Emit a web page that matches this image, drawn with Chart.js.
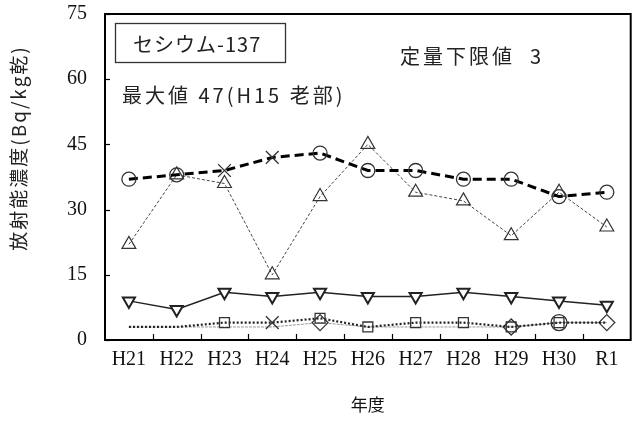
<!DOCTYPE html>
<html>
<head>
<meta charset="utf-8">
<script src="https://cdn.jsdelivr.net/npm/chart.js@4/dist/chart.umd.min.js"></script>
<style>
    html, body { margin: 0; padding: 0; background: #fff; overflow: hidden; }
    #wrap { width: 640px; height: 423px; }
</style>
</head>
<body>
<div id="wrap"><canvas id="chart" width="640" height="423"></canvas></div>
<script>
const years = ["H21", "H22", "H23", "H24", "H25", "H26", "H27", "H28", "H29", "H30", "R1"];
const yTicks = [0, 15, 30, 45, 60, 75];
const circleSeries = [37, 38, 39, 42, 43, 39, 39, 37, 37, 33, 34];
const circleMarks = ["circle", "circle", "crossRot", "crossRot", "circle", "circle", "circle", "circle", "circle", "circle", "circle"];
const triangleSeries = [22, 38, 36, 15, 33, 45, 34, 32, 24, 34, 26];
const downSeries = [9, 7, 11, 10, 11, 10, 10, 11, 10, 9, 8];
const squareSeries = [3, 3, 4, 4, 5, 3, 4, 4, 3, 4, 4];
const squareMarks = [null, null, "rect", "crossRot", "rect", "rect", "rect", "rect", "rect", "rect", null];
const diamondSeries = [3, 3, 3, 3, 4, 3, 3, 3, 3, 4, 4];
const diamondMarks = [null, null, null, null, "rectRot", null, null, null, "rectRot", "circle", "rectRot"];

const serif = "'Liberation Serif', 'Noto Sans CJK JP', serif";
const jp = "'Noto Sans CJK JP', 'Liberation Serif', serif";
const clear = "rgba(255,255,255,0)";

// frame, inward ticks and the text labels inside the plot
const decor = {
    id: "decor",
    afterDraw(chart) {
        const { ctx, chartArea: a, scales } = chart;
        ctx.save();
        ctx.strokeStyle = "#000";
        ctx.lineWidth = 2;
        ctx.strokeRect(a.left, a.top, a.right - a.left, a.bottom - a.top);
        ctx.lineWidth = 1.2;
        yTicks.forEach(v => {
            const y = Math.round(scales.y.getPixelForValue(v)) + 0.5;
            ctx.beginPath();
            ctx.moveTo(a.left, y);
            ctx.lineTo(a.left + 5, y);
            ctx.stroke();
        });
        for (let i = 0; i < years.length - 1; i++) {
            const x = Math.round((scales.x.getPixelForValue(i) + scales.x.getPixelForValue(i + 1)) / 2) + 0.5;
            ctx.beginPath();
            ctx.moveTo(x, a.bottom);
            ctx.lineTo(x, a.bottom - 6);
            ctx.stroke();
        }
        ctx.lineWidth = 1.3;
        ctx.strokeStyle = "#333";
        ctx.strokeRect(115.5, 23.5, 170, 39);
        ctx.fillStyle = "#222";
        ctx.textBaseline = "middle";
        ctx.font = "20px " + jp;
        ctx.letterSpacing = "1px";
        ctx.fillText("セシウム-137", 133, 44);
        ctx.letterSpacing = "3px";
        ctx.fillText("最大値 47(H15 老部)", 122, 95);
        ctx.fillText("定量下限値  3", 400, 56);
        // y-axis title
        ctx.letterSpacing = "2px";
        ctx.translate(19, 148);
        ctx.rotate(-Math.PI / 2);
        ctx.textAlign = "center";
        ctx.font = "19px " + jp;
        ctx.fillText("放射能濃度(Bq/kg乾)", 0, 0);
        ctx.restore();
    }
};

new Chart(document.getElementById("chart"), {
    type: "line",
    data: {
        labels: years,
        datasets: [
            {
                data: circleSeries,
                borderColor: "#000",
                borderWidth: 3,
                borderDash: [9, 5],
                pointStyle: circleMarks,
                pointRadius: circleMarks.map(s => s === "crossRot" ? 9 : 7),
                pointBorderWidth: 1.3,
                pointBorderColor: "#333",
                pointBackgroundColor: clear
            },
            {
                data: triangleSeries,
                borderColor: "#444",
                borderWidth: 1,
                borderDash: [3, 2],
                pointStyle: "triangle",
                pointRadius: 8,
                pointBorderWidth: 1.2,
                pointBorderColor: "#333",
                pointBackgroundColor: clear
            },
            {
                data: downSeries,
                borderColor: "#222",
                borderWidth: 1.5,
                pointStyle: "triangle",
                rotation: 180,
                pointRadius: 7,
                pointBorderWidth: 2,
                pointBorderColor: "#222",
                pointBackgroundColor: "#fff"
            },
            {
                data: squareSeries,
                borderColor: "#222",
                borderWidth: 2.2,
                borderDash: [2, 2],
                pointStyle: squareMarks.map(s => s || "circle"),
                pointRadius: squareMarks.map(s => s === "crossRot" ? 9 : (s ? 7 : 0)),
                pointBorderWidth: 1.3,
                pointBorderColor: "#333",
                pointBackgroundColor: clear
            },
            {
                data: diamondSeries,
                borderColor: "#999",
                borderWidth: 1,
                borderDash: [3, 1],
                pointStyle: diamondMarks.map(s => s || "circle"),
                pointRadius: diamondMarks.map(s => s ? 8 : 0),
                pointBorderWidth: 1.3,
                pointBorderColor: "#333",
                pointBackgroundColor: clear
            }
        ]
    },
    options: {
        responsive: false,
        animation: false,
        layout: { padding: { top: 14, right: 3, left: 0, bottom: 0 } },
        plugins: { legend: { display: false }, tooltip: { enabled: false } },
        scales: {
            x: {
                offset: true,
                grid: { display: false },
                border: { display: false },
                ticks: { color: "#111", font: { family: serif, size: 20 }, padding: 0, maxRotation: 0, autoSkip: false },
                title: { display: true, text: "年度", color: "#111", font: { family: jp, size: 17 }, padding: { top: 7, bottom: 8 } },
                afterFit(scale) { scale.height = 83; }
            },
            y: {
                min: 0,
                max: 75,
                afterBuildTicks(scale) { scale.ticks = yTicks.map(v => ({ value: v })); },
                grid: { display: false },
                border: { display: false },
                ticks: { color: "#111", font: { family: serif, size: 20 }, padding: 10 },
                afterFit(scale) {
                    scale.width = 105;
                    scale.paddingTop = 0;
                    scale.paddingBottom = 0;
                }
            }
        }
    },
    plugins: [decor]
});
</script>
</body>
</html>
